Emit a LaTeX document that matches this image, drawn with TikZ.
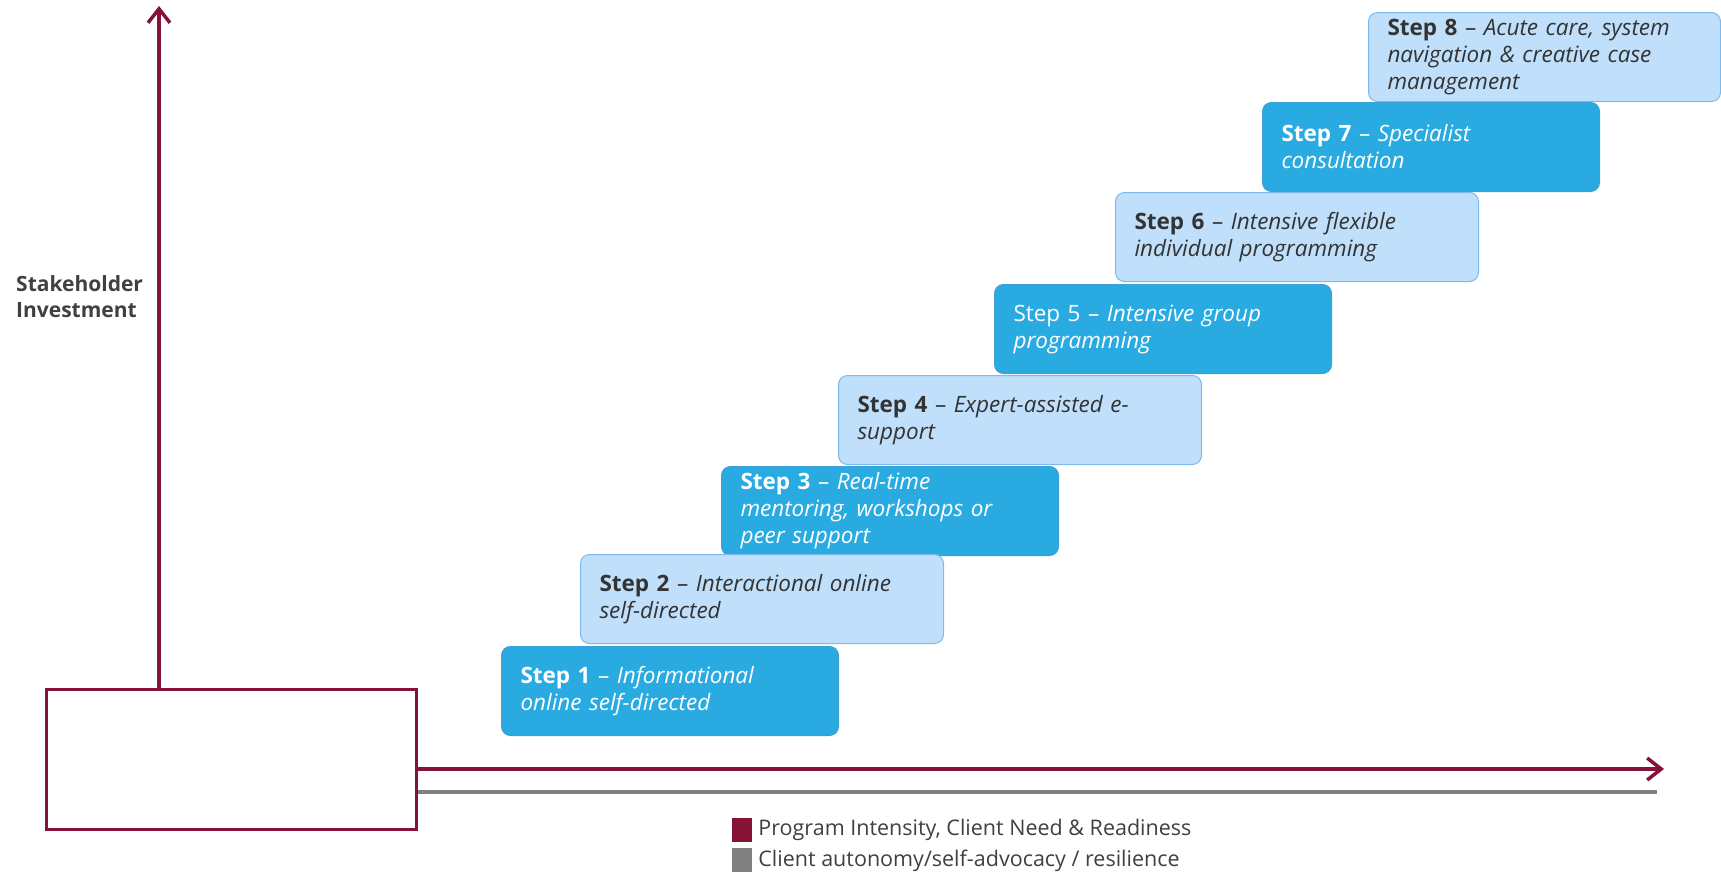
\documentclass[tikz,border=0pt]{standalone}
\usepackage{fontspec}
\setmainfont{Open Sans}
\usetikzlibrary{arrows.meta,positioning}

\definecolor{axisred}{RGB}{134,18,54}
\definecolor{axisgray}{RGB}{128,128,128}
\definecolor{stepdark}{RGB}{41,171,226}
\definecolor{stepdarkedge}{RGB}{60,160,215}
\definecolor{steplight}{RGB}{191,223,250}
\definecolor{steplightedge}{RGB}{125,185,235}
\definecolor{steptext}{RGB}{51,51,51}
\definecolor{labeltext}{RGB}{64,64,64}

\tikzset{
  stepbox/.style={rectangle, rounded corners=9pt, line width=1pt, minimum height=89pt,
    inner xsep=19pt, inner ysep=0pt, align=left, anchor=north west,
    font=\fontsize{22.5}{27}\selectfont},
  darkstep/.style={stepbox, draw=stepdarkedge, fill=stepdark, text=white, text width=299pt},
  lightstep/.style={stepbox, draw=steplightedge, fill=steplight, text=steptext, text width=325pt},
  axisline/.style={draw=axisred, line width=3.5pt},
  legsq/.style={rectangle, minimum width=20pt, minimum height=24pt, inner sep=0pt},
  legtext/.style={text=labeltext, inner sep=0pt, anchor=west, font=\fontsize{21.5}{24}\selectfont}
}

\begin{document}
\begin{tikzpicture}[x=1pt, y=-1pt]
\useasboundingbox (0,0) rectangle (1721,876);

% axes
\node (origin) [draw=axisred, line width=3pt, fill=white, minimum width=370pt,
  minimum height=140pt, inner sep=0pt] at (231.5,759.5) {};
\coordinate (ytip) at (159,6);
\coordinate (xtip) at (1664,769);
\coordinate (gend) at (1657,792);
\draw[axisline, -{Straight Barb[length=14pt, width=22pt]}] (origin.north -| ytip) -- (ytip);
\draw[axisline, -{Straight Barb[length=14pt, width=22pt]}] (origin.east |- xtip) -- (xtip);
\draw[axisgray, line width=4.5pt] (origin.east |- gend) -- (gend);

\node (yname) [text=labeltext, align=left, anchor=north west, inner sep=0pt,
  font=\fontsize{21}{26}\selectfont\bfseries] at (16,275) {Stakeholder\\Investment};

% steps
\node (step8) [lightstep, text width=314pt] at (1368,12)
  {\textbf{Step 8} -- \itshape Acute care, system\\navigation \& creative case\\management};
\node (step7) [darkstep] at (1262,102) {\textbf{Step 7} -- \itshape Specialist\\consultation};
\node (step6) [lightstep] at (1115,192)
  {\textbf{Step 6} -- \itshape Intensive flexible\\individual programming};
\node (step5) [darkstep] at (994,284) {Step 5 -- \itshape Intensive group\\programming};
\node (step4) [lightstep] at (838,375) {\textbf{Step 4} -- \itshape Expert-assisted e-\\support};
\node (step3) [darkstep] at (721,466)
  {\textbf{Step 3} -- \itshape Real-time\\mentoring, workshops or\\peer support};
\node (step2) [lightstep] at (580,554)
  {\textbf{Step 2} -- \itshape Interactional online\\self-directed};
\node (step1) [darkstep] at (501,646)
  {\textbf{Step 1} -- \itshape Informational\\online self-directed};

% legend
\node (legA) [legsq, fill=axisred] at (742,830) {};
\node (legB) [legsq, fill=axisgray, below=6pt of legA] {};
\node (legAtxt) [legtext, right=6pt of legA] {Program Intensity, Client Need \& Readiness};
\node (legBtxt) [legtext, right=6pt of legB] {Client autonomy/self-advocacy / resilience};
\end{tikzpicture}
\end{document}
